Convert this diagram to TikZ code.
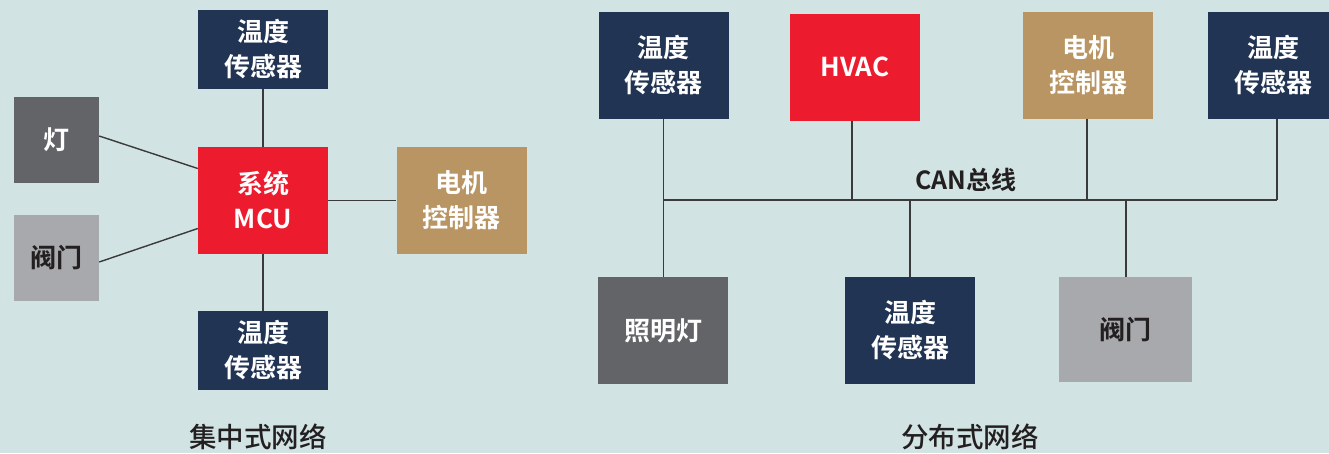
\documentclass[tikz,border=0pt]{standalone}
\usepackage{fontspec}
\setmainfont{Noto Sans CJK SC}[BoldFont={Noto Sans CJK SC Bold}]
\newfontfamily\medfont{Noto Sans CJK SC Medium}
\definecolor{bg}{HTML}{D1E4E3}
\definecolor{navy}{HTML}{213453}
\definecolor{cred}{HTML}{ED1B2E}
\definecolor{tan}{HTML}{B89563}
\definecolor{dgray}{HTML}{636468}
\definecolor{lgray}{HTML}{A7A9AC}
\definecolor{txt}{HTML}{231F20}
\definecolor{wire}{HTML}{3A3A3A}
\tikzset{
  box/.style={rectangle, inner sep=0pt, align=center, text=white,
    font=\bfseries\fontsize{26}{35}\selectfont},
  sbox/.style={box, minimum width=130pt, minimum height=79pt, fill=navy},
  bbox/.style={box, minimum width=130pt, minimum height=107pt},
  wireline/.style={draw=wire, line width=1.4pt},
  caption/.style={text=txt, font=\medfont\fontsize{27.5}{30}\selectfont}
}
\begin{document}
\begin{tikzpicture}[x=1pt,y=-1pt]
\fill[bg] (0,0) rectangle (1329,453);
\useasboundingbox (0,0) rectangle (1329,453);
% ---------- centralized ----------
\node[sbox] (ts1) at (263,49) {温度\\传感器};
\node[box, minimum width=85pt, minimum height=86pt, fill=dgray] (lamp) at (56.5,140) {灯};
\node[box, minimum width=85pt, minimum height=86pt, fill=lgray, text=txt] (valve) at (56.5,258) {阀门};
\node[bbox, fill=cred] (mcu) at (263,200.5) {系统\\MCU};
\node[bbox, fill=tan] (motor) at (461.5,200.5) {电机\\控制器};
\node[sbox] (ts2) at (263,350.5) {温度\\传感器};
\draw[wireline] (ts1.south) -- (mcu.north);
\draw[wireline] (mcu.south) -- (ts2.north);
\draw[wireline] (mcu.east) -- (motor.west);
\draw[wireline] ([yshift=4pt]lamp.east) -- ([yshift=32pt]mcu.west);
\draw[wireline] ([yshift=-4pt]valve.east) -- ([yshift=-28pt]mcu.west);
\node[caption] (lc) at (258,437) {集中式网络};
% ---------- distributed ----------
\node[bbox, fill=navy] (rts1) at (663.5,65) {温度\\传感器};
\node[bbox, fill=cred] (hvac) at (855,67) {HVAC};
\node[bbox, fill=tan] (rmotor) at (1088,65) {电机\\控制器};
\node[bbox, fill=navy, anchor=west] (rts2) at (1208,65) {温度\\传感器};
\node[bbox, fill=dgray] (lamp2) at (663,330.5) {照明灯};
\node[bbox, fill=navy] (rts3) at (910,330.5) {温度\\传感器};
\node[box, minimum width=133pt, minimum height=105pt, fill=lgray, text=txt] (rvalve) at (1125,329.5) {阀门};
\coordinate (b1) at (663.5,200);
\coordinate (b2) at (852,200);
\coordinate (b3) at (910,200);
\coordinate (b4) at (1087,200);
\coordinate (b5) at (1126,200);
\coordinate (b6) at (1277,200);
\draw[wireline] (rts1.south) -- (lamp2.north -| rts1.south);
\draw[wireline] (b1) -- (b6);
\draw[wireline] (hvac.south -| b2) -- (b2);
\draw[wireline] (rmotor.south -| b4) -- (b4);
\draw[wireline] (rts2.south -| b6) -- (b6);
\draw[wireline] (b3) -- (rts3.north);
\draw[wireline] (b5) -- (rvalve.north -| b5);
\node[text=txt, font=\bfseries\fontsize{25}{28}\selectfont] (can) at (966,180) {CAN总线};
\node[caption] (rc) at (970,437) {分布式网络};
\end{tikzpicture}
\end{document}
